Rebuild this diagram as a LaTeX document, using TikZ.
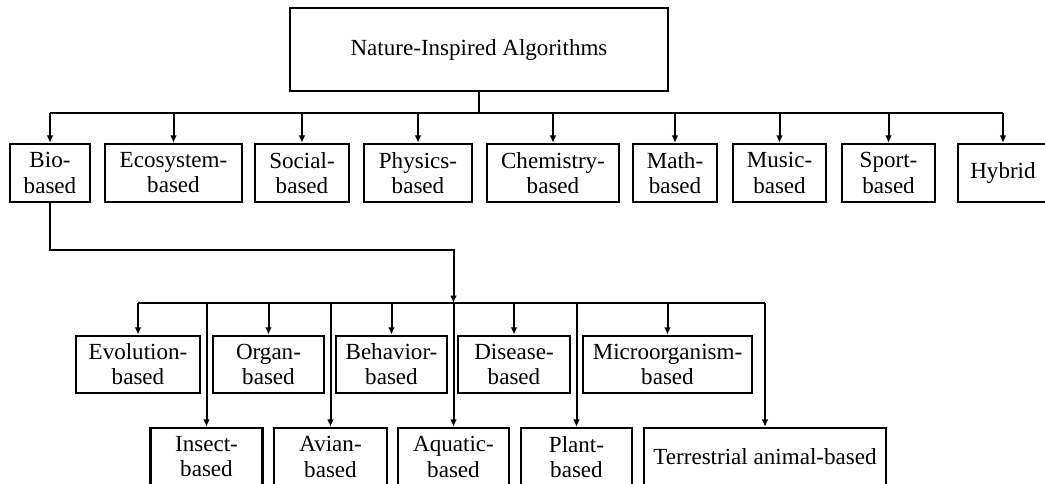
\documentclass[tikz,border=0pt]{standalone}
\usepackage{fontspec}
\setmainfont{Liberation Serif}
\usetikzlibrary{arrows.meta}
\begin{document}
\begin{tikzpicture}[x=0.75pt,y=-0.75pt,
  box/.style={draw,line width=1.8pt,rectangle,inner sep=0pt,align=center,
    font=\fontsize{17.3}{18.8}\selectfont},
  r1/.style={box,minimum height=43.5pt},
  r2/.style={box,minimum height=43pt},
  r3/.style={box,minimum height=43.5pt},
  w/.style={minimum width=#1*0.75pt},
  conn/.style={line width=1.5pt},
  arr/.style={conn,-{Latex[length=5.5pt,width=5pt]}}]
\useasboundingbox (0,0) rectangle (1045,484);
% top
\node[box,w=378,minimum height=62pt] (top) at (479,49.5) {Nature-Inspired Algorithms};
% row 1
\node[r1,w=80]  (bio)  at (50,173)    {Bio-\\based};
\node[r1,w=137] (eco)  at (173.5,173) {Ecosystem-\\based};
\node[r1,w=94]  (soc)  at (302,173)   {Social-\\based};
\node[r1,w=108] (phy)  at (418,173)   {Physics-\\based};
\node[r1,w=132] (chem) at (553,173)   {Chemistry-\\based};
\node[r1,w=84]  (math) at (675,173)   {Math-\\based};
\node[r1,w=93]  (mus)  at (779.5,173) {Music-\\based};
\node[r1,w=93]  (spo)  at (888.5,173) {Sport-\\based};
\node[r1,w=90]  (hyb)  at (1003,173)  {Hybrid};
% row 2
\node[r2,w=124] (evo)  at (138,364.5)   {Evolution-\\based};
\node[r2,w=111] (org)  at (268.5,364.5) {Organ-\\based};
\node[r2,w=111] (beh)  at (391.5,364.5) {Behavior-\\based};
\node[r2,w=112] (dis)  at (514,364.5)   {Disease-\\based};
\node[r2,w=169] (mic)  at (667.5,364.5) {Microorganism-\\based};
% row 3
\node[r3,w=112] (ins)  at (206.5,457)   {Insect-\\based};
\node[r3,w=113] (avi)  at (330.5,457)   {Avian-\\based};
\node[r3,w=111] (aqu)  at (453.5,457)   {Aquatic-\\based};
\node[r3,w=111] (pla)  at (576.5,457)   {Plant-\\based};
\node[r3,w=242] (ter)  at (765,457)     {Terrestrial animal-based};
% bus coordinates
\coordinate (b1) at (479,113);
\coordinate (b2) at (453.5,303);
\coordinate (k)  at (50,250);
% top tree
\draw[conn] (top.south) -- (b1);
\draw[conn] (b1 -| bio.north) -- (b1 -| hyb.north);
\foreach \n in {bio,eco,soc,phy,chem,math,mus,spo,hyb}
  \draw[arr] (b1 -| \n.north) -- (\n.north);
% bio branch
\draw[arr] (bio.south) -- (k) -- (k -| b2) -- (b2);
\draw[conn] (b2 -| evo.north) -- (b2 -| ter.north);
\foreach \n in {evo,org,beh,dis,mic,ins,avi,aqu,pla,ter}
  \draw[arr] (b2 -| \n.north) -- (\n.north);
\end{tikzpicture}
\end{document}
